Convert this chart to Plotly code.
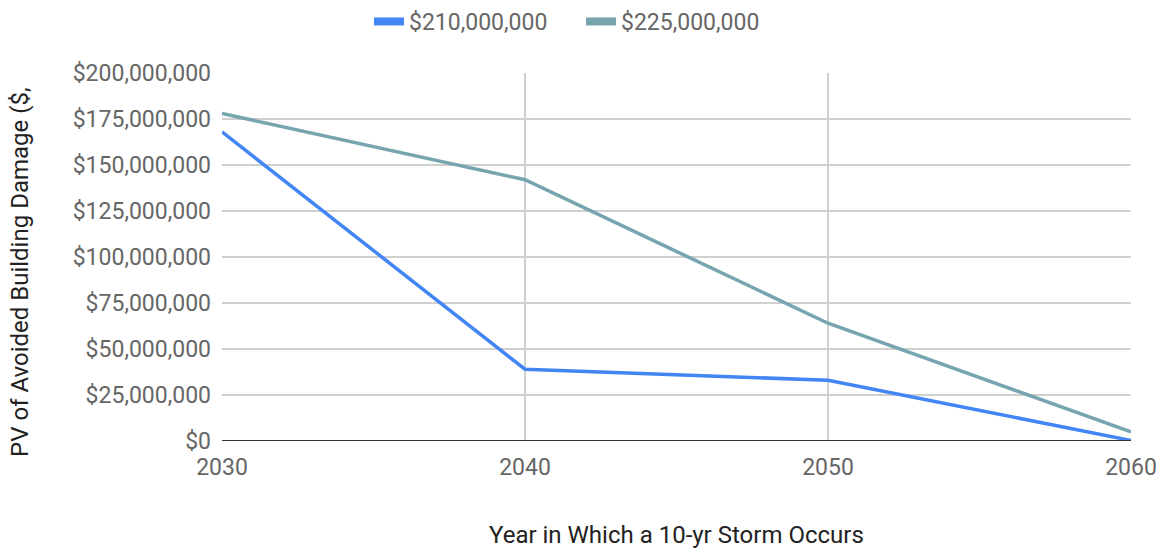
import plotly.graph_objects as go

years = [2030, 2040, 2050, 2060]
series_210m = [168_000_000, 39_000_000, 33_000_000, 300_000]
series_225m = [178_000_000, 142_000_000, 64_000_000, 5_000_000]
series_names = ["$210,000,000", "$225,000,000"]
series_colors = ["#4285F4", "#76A5AF"]
y_ticks = list(range(0, 200_000_001, 25_000_000))
y_tick_labels = ["$" + f"{v:,}" for v in y_ticks]

fig = go.Figure()
for vals, name, color in zip([series_210m, series_225m], series_names, series_colors):
    fig.add_trace(go.Scatter(x=years, y=vals, name=name, mode="lines",
                             line=dict(color=color, width=3.5), showlegend=False))
    # legend entry with a thick key
    fig.add_trace(go.Scatter(x=[None], y=[None], name=name, mode="lines",
                             line=dict(color=color, width=8), showlegend=True))

font_family = "Roboto, Arial, sans-serif"
fig.update_layout(
    width=1162, height=550,
    margin=dict(l=222, r=31, t=73, b=109),
    paper_bgcolor="white", plot_bgcolor="white",
    font=dict(family=font_family, size=23, color="#666666"),
    showlegend=True,
    legend=dict(orientation="h", xref="container", x=0.5, xanchor="center",
                yref="container", y=1.0, yanchor="top",
                font=dict(size=23, color="#666666"), itemwidth=30,
                entrywidth=167, traceorder="normal"),
    xaxis=dict(range=[2030, 2060], tickvals=years, ticktext=[str(y) for y in years],
               showgrid=True, gridcolor="#d0d0d0", gridwidth=2, zeroline=False,
               showline=False, ticks="", ticklabelstandoff=10, automargin=False,
               tickfont=dict(size=23, color="#666666")),
    yaxis=dict(range=[0, 200_000_000], tickvals=y_ticks, ticktext=y_tick_labels,
               showgrid=True, gridcolor="#d0d0d0", gridwidth=2, zeroline=False,
               showline=False, ticks="", ticklabelstandoff=10, automargin=False,
               tickfont=dict(size=23, color="#666666")),
    shapes=[dict(type="line", xref="paper", yref="y", x0=0, x1=1, y0=0, y1=0,
                 line=dict(color="#333333", width=2))],
    annotations=[
        dict(text="Year in Which a 10-yr Storm Occurs", xref="paper", yref="paper",
             x=0.5, y=-0.255, xanchor="center", yanchor="middle", showarrow=False,
             font=dict(size=24, color="#222222")),
        dict(text="PV of Avoided Building Damage ($,", xref="paper", yref="paper",
             x=-0.222, y=0.46, xanchor="center", yanchor="middle", showarrow=False,
             textangle=-90, font=dict(size=24, color="#222222")),
    ],
)

fig.write_html("out.html")
